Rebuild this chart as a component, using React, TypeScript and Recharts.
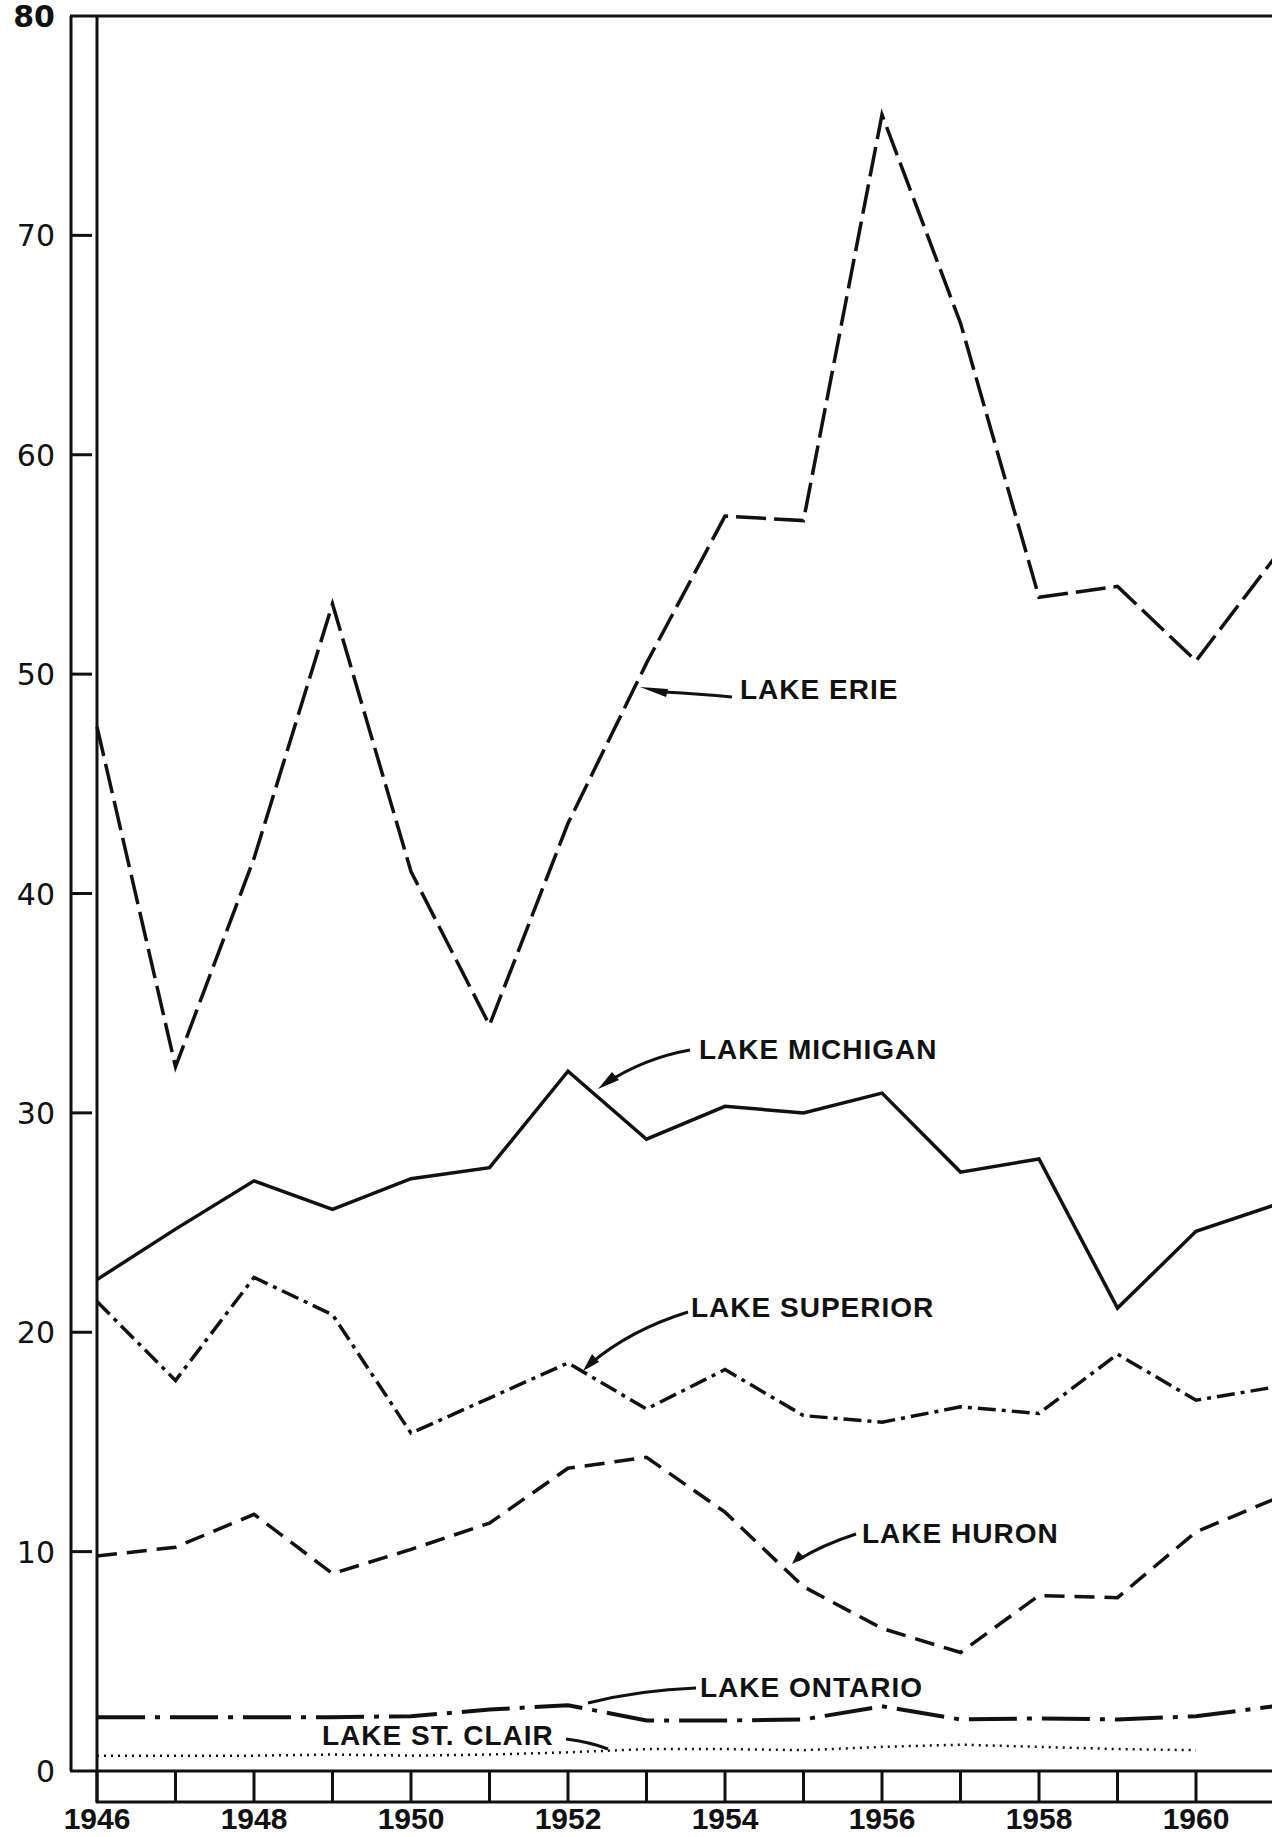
import { LineChart, Line, XAxis, YAxis } from 'recharts';

document.body.style.margin = '0';

// years on the x axis
const years = [1946, 1947, 1948, 1949, 1950, 1951, 1952, 1953, 1954, 1955, 1956, 1957, 1958, 1959, 1960, 1961];

// values, one per year
const erie = [47.6, 32.1, 41.6, 53.2, 41.0, 34.0, 43.2, 50.5, 57.2, 57.0, 75.5, 66.0, 53.5, 54.0, 50.6, 55.3];
const michigan = [22.4, 24.7, 26.9, 25.6, 27.0, 27.5, 31.9, 28.8, 30.3, 30.0, 30.9, 27.3, 27.9, 21.1, 24.6, 25.8];
const superior = [21.4, 17.8, 22.5, 20.8, 15.4, 17.0, 18.6, 16.5, 18.3, 16.2, 15.9, 16.6, 16.3, 19.0, 16.9, 17.5];
const huron = [9.8, 10.2, 11.7, 9.0, 10.1, 11.3, 13.8, 14.3, 11.8, 8.4, 6.5, 5.4, 8.0, 7.9, 10.9, 12.4];
const ontario = [2.45, 2.45, 2.45, 2.45, 2.5, 2.8, 3.0, 2.3, 2.3, 2.35, 2.95, 2.35, 2.4, 2.35, 2.5, 2.95];
const stClair = [0.7, 0.7, 0.7, 0.75, 0.7, 0.75, 0.85, 1.0, 1.0, 0.95, 1.1, 1.2, 1.1, 1.0, 0.95, null];

const yTicks = [0, 10, 20, 30, 40, 50, 60, 70, 80];

const data = years.map((year, i) => ({
  year,
  erie: erie[i],
  michigan: michigan[i],
  superior: superior[i],
  huron: huron[i],
  ontario: ontario[i],
  stClair: stClair[i],
}));

const INK = '#111';
const LABEL_FONT = '"Liberation Sans", Arial, sans-serif';

function YearTick(props: any) {
  const { x, y, payload } = props;
  const year = payload.value as number;
  return (
    <g>
      <line x1={x} x2={x} y1={y} y2={y + 31} stroke={INK} strokeWidth={3} />
      {year % 2 === 0 && (
        <text
          x={x}
          y={y + 58}
          textAnchor="middle"
          fontSize={30}
          fontWeight={600}
          fontFamily={LABEL_FONT}
          fill={INK}
        >
          {year}
        </text>
      )}
    </g>
  );
}

function ValueTick(props: any) {
  const { x, y, payload } = props;
  const v = payload.value as number;
  return (
    <g>
      {v !== 0 && v !== 80 && (
        <line x1={x - 25} x2={x - 5} y1={y} y2={y} stroke={INK} strokeWidth={3} />
      )}
      <text
        x={x - 42}
        y={y + 11}
        textAnchor="end"
        fontSize={30}
        fontWeight={v === 80 ? 700 : 500}
        fontFamily='"DejaVu Sans", sans-serif'
        fill={INK}
      >
        {v}
      </text>
    </g>
  );
}

// frame pieces the axes don't cover, plus the lake labels with leaders
function Overlay() {
  return (
    <svg
      width={1272}
      height={1837}
      style={{ position: 'absolute', left: 0, top: 0, pointerEvents: 'none' }}
    >
      <g stroke={INK} strokeWidth={3} fill="none">
        <line x1={71} x2={71} y1={16} y2={1771} />
        <line x1={70} x2={1272} y1={16} y2={16} />
        <line x1={70} x2={97} y1={1771} y2={1771} />
        <line x1={97} x2={97} y1={1771} y2={1803} />
        <line x1={96} x2={1272} y1={1802} y2={1802} />
      </g>
      <g stroke={INK} strokeWidth={3} fill="none">
        <path d="M732,697 Q700,694 664,692" />
        <path d="M690,1050 Q645,1058 606,1083" />
        <path d="M688,1312 Q630,1330 590,1364" />
        <path d="M856,1534 Q822,1545 798,1560" />
        <path d="M696,1688 Q640,1690 588,1703" />
        <path d="M566,1739 Q590,1742 608,1749" />
      </g>
      <g fill={INK}>
        <polygon points="640,687 668,689 666,697" />
        <polygon points="598,1089 612,1072 619,1080" />
        <polygon points="583,1371 592,1354 599,1362" />
        <polygon points="792,1564 798,1551 805,1558" />
      </g>
      <g fontFamily={LABEL_FONT} fontWeight="bold" fontSize={28} fill={INK} letterSpacing={1}>
        <text x={740} y={699}>LAKE ERIE</text>
        <text x={699} y={1059}>LAKE MICHIGAN</text>
        <text x={691} y={1317}>LAKE SUPERIOR</text>
        <text x={862} y={1543}>LAKE HURON</text>
        <text x={700} y={1697}>LAKE ONTARIO</text>
        <text x={322} y={1745}>LAKE ST. CLAIR</text>
      </g>
    </svg>
  );
}

export default function App() {
  return (
    <div
      style={{
        position: 'relative',
        width: 1272,
        height: 1837,
        overflow: 'hidden',
        background: '#fff',
      }}
    >
      <LineChart
        width={1276}
        height={1837}
        data={data}
        margin={{ top: 16, right: 1.5, left: 0, bottom: 0 }}
      >
        <XAxis
          dataKey="year"
          type="number"
          domain={[1946, 1961]}
          ticks={years}
          interval={0}
          height={66}
          tickSize={0}
          tickMargin={0}
          tick={<YearTick />}
          axisLine={{ stroke: INK, strokeWidth: 3 }}
          tickLine={false}
        />
        <YAxis
          type="number"
          domain={[0, 80]}
          ticks={yTicks}
          interval={0}
          width={97}
          tickSize={0}
          tickMargin={0}
          tick={<ValueTick />}
          axisLine={{ stroke: INK, strokeWidth: 3 }}
          tickLine={false}
        />
        <Line
          dataKey="erie"
          type="linear"
          stroke={INK}
          strokeWidth={3.5}
          strokeDasharray="30 8"
          dot={false}
          isAnimationActive={false}
        />
        <Line
          dataKey="michigan"
          type="linear"
          stroke={INK}
          strokeWidth={3.5}
          dot={false}
          isAnimationActive={false}
        />
        <Line
          dataKey="superior"
          type="linear"
          stroke={INK}
          strokeWidth={3.5}
          strokeDasharray="18 6 4 6"
          dot={false}
          isAnimationActive={false}
        />
        <Line
          dataKey="huron"
          type="linear"
          stroke={INK}
          strokeWidth={3.5}
          strokeDasharray="20 10"
          dot={false}
          isAnimationActive={false}
        />
        <Line
          dataKey="ontario"
          type="linear"
          stroke={INK}
          strokeWidth={4}
          strokeDasharray="48 10 5 10"
          dot={false}
          isAnimationActive={false}
        />
        <Line
          dataKey="stClair"
          type="linear"
          stroke={INK}
          strokeWidth={2.5}
          strokeDasharray="2 5"
          dot={false}
          connectNulls={false}
          isAnimationActive={false}
        />
      </LineChart>
      <Overlay />
    </div>
  );
}
